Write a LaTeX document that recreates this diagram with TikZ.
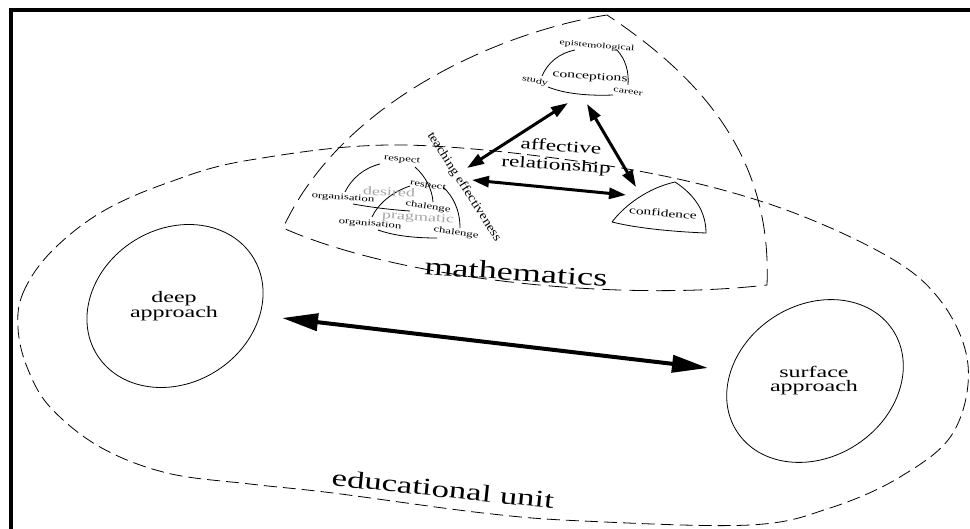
\documentclass[tikz,border=0pt]{standalone}
\usepackage{fontspec}
\setmainfont{Liberation Serif}
\usetikzlibrary{arrows.meta}
\newcommand{\hsx}[2][1.5]{\scalebox{#1}[1]{#2}}
\definecolor{lightgr}{RGB}{165,165,165}
\begin{document}
\begin{tikzpicture}[x=1pt,y=-1pt,
  thinline/.style={line width=0.8pt},
  dashA/.style={dash pattern=on 19pt off 8pt, line width=0.8pt},
  dashB/.style={dash pattern=on 13pt off 6pt, line width=0.8pt},
  arr/.style={line width=3pt, {Triangle[length=17pt,width=11pt]}-{Triangle[length=17pt,width=11pt]}},
  bigarr/.style={line width=4pt, {Triangle[length=36pt,width=17pt]}-{Triangle[length=36pt,width=17pt]}},
  lbl/.style={inner sep=0pt},
  small/.style={lbl, font=\fontsize{8.5}{10}\selectfont},
  grey/.style={lbl, text=lightgr, font=\fontsize{12}{14}\selectfont},
  big/.style={lbl, font=\fontsize{16}{14}\selectfont, align=center},
  huge/.style={lbl, font=\fontsize{25}{30}\selectfont}
]
\useasboundingbox (0,0) rectangle (970,529);
\fill[white] (0,0) rectangle (970,529);
% frame
\draw[line width=4pt] (11,529) -- (11,10) -- (970,10);

% educational unit
\draw[dashB] plot[smooth cycle, tension=0.6] coordinates {
 (18,328) (23,293) (50,253) (100,213) (167,183) (250,160) (403,145) (603,165)
 (757,200) (880,252) (940,300) (968,365) (953,433) (900,477) (830,508)
 (750,525) (583,521) (483,513) (333,493) (250,484) (167,473) (100,447) (50,407) (27,367)};

% mathematics region
\draw[dashA] (607,15) .. controls (510,30) and (345,95) .. (283,228)
  .. controls (400,280) and (620,302) .. (767,285)
  .. controls (772,160) and (705,80) .. (607,15);

% conceptions
\draw[thinline] (542,76) .. controls (548,62) and (560,53) .. (575,50);
\draw[thinline] (617,50) .. controls (626,60) and (629,72) .. (628,85);
\draw[thinline] (548,87) .. controls (565,94) and (590,96) .. (613,95);
\node[lbl, font=\fontsize{10.5}{12}\selectfont, rotate=-4] (concep) at (590,77) {\hsx{conceptions}};
\node[lbl, font=\fontsize{7.9}{9}\selectfont, rotate=-5] (epist) at (597,46) {\hsx{epistemological}};
\node[lbl, font=\fontsize{8}{9}\selectfont, rotate=-12] (study) at (535,81) {\hsx{study}};
\node[lbl, font=\fontsize{8}{9}\selectfont, rotate=-8] (career) at (628,92) {\hsx{career}};

% desired / pragmatic
\draw[thinline] (345,192) .. controls (352,178) and (364,168) .. (380,164);
\draw[thinline] (415,167) .. controls (425,176) and (432,188) .. (433,202);
\draw[thinline] (353,204) .. controls (375,208) and (395,210) .. (410,211);
\draw[thinline] (372,217) .. controls (378,204) and (392,192) .. (410,186);
\draw[thinline] (443,187) .. controls (453,196) and (460,210) .. (460,228);
\draw[thinline] (378,230) .. controls (395,236) and (415,238) .. (437,238);
\node[grey, rotate=-3] (desired) at (389,192) {\hsx{desired}};
\node[grey, rotate=-4] (pragm) at (418,218) {\hsx{pragmatic}};
\node[small, rotate=-6] (resp1) at (402,160) {\hsx{respect}};
\node[small, rotate=-4] (org1) at (343,198) {\hsx{organisation}};
\node[small, rotate=-10] (resp2) at (428,186) {\hsx{respect}};
\node[small, rotate=-8] (chal1) at (428,207) {\hsx{chalenge}};
\node[small, rotate=-5] (org2) at (370,224) {\hsx{organisation}};
\node[small, rotate=-8] (chal2) at (456,233) {\hsx{chalenge}};
\node[lbl, font=\fontsize{12.5}{14}\selectfont, rotate=-57.5] (teach) at (464,187) {\hsx[1.15]{teaching effectiveness}};

% confidence
\draw[thinline] (612,222) .. controls (625,205) and (648,188) .. (675,182)
  .. controls (695,195) and (706,212) .. (706,233)
  .. controls (680,232) and (640,229) .. (612,222);
\node[lbl, font=\fontsize{10.3}{12}\selectfont, rotate=-5] (conf) at (663,213) {\hsx{confidence}};

% affective relationship
\node[lbl, font=\fontsize{16}{18}\selectfont, rotate=-4] (affect) at (561,146) {\hsx[1.45]{affective}};
\node[lbl, font=\fontsize{16}{18}\selectfont, rotate=-4] (relat) at (556,166) {\hsx[1.45]{relationship}};

% arrow ends
\coordinate (cA) at (568,103);
\coordinate (tA) at (467,168);
\coordinate (cB) at (587,104);
\coordinate (fB) at (636,187);
\coordinate (tC) at (472,180);
\coordinate (fC) at (626,195);
\draw[arr] (cA) -- (tA);
\draw[arr] (cB) -- (fB);
\draw[arr] (tC) -- (fC);

% mathematics / educational unit labels
\node[huge, rotate=-4] (math) at (516,272) {\hsx[1.45]{mathematics}};
\node[lbl, font=\fontsize{24}{28}\selectfont, rotate=-6] (edu) at (443,489) {\hsx[1.45]{educational unit}};

% deep approach
\draw[thinline, rotate around={32:(175,306)}] (175,306) ellipse [x radius=92pt, y radius=77pt];
\node[big] (deep) at (174,306) {\hsx{deep}\\\hsx{approach}};

% surface approach
\draw[thinline, rotate around={33:(815,381)}] (815,381) ellipse [x radius=93pt, y radius=76pt];
\node[big] (surf) at (814,381) {\hsx{surface}\\\hsx{approach}};

\coordinate (dE) at (282,318);
\coordinate (sE) at (708,368);
\draw[bigarr] (dE) -- (sE);
\end{tikzpicture}
\end{document}
